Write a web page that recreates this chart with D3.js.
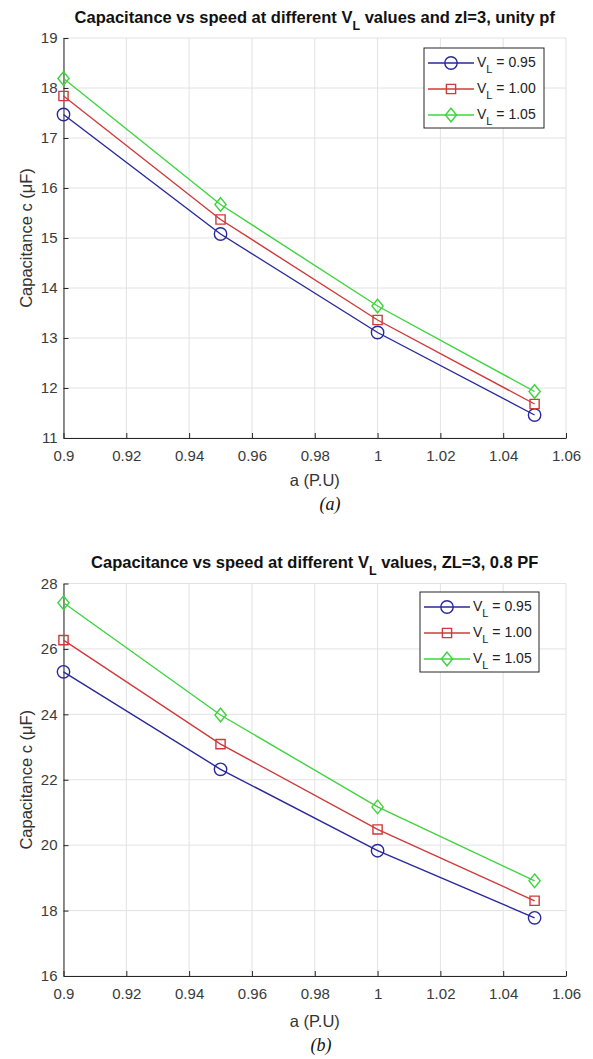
<!DOCTYPE html>
<html>
<head>
<meta charset="utf-8">
<script src="https://cdn.jsdelivr.net/npm/d3@7"></script>
<style>
  html, body { margin: 0; padding: 0; background: #ffffff; }
  svg { display: block; }
</style>
</head>
<body>
<svg id="chart" width="593" height="1059"></svg>
<script>
// ---------------- DATA ----------------
const speedPU = [0.9, 0.95, 1.0, 1.05];
const seriesLabels = ["0.95", "1.00", "1.05"];

// panel (a): unity pf
const capA_VL095 = [17.47, 15.08, 13.11, 11.46];
const capA_VL100 = [17.84, 15.37, 13.36, 11.68];
const capA_VL105 = [18.19, 15.67, 13.64, 11.93];

// panel (b): 0.8 PF
const capB_VL095 = [25.30, 22.32, 19.83, 17.78];
const capB_VL100 = [26.27, 23.09, 20.48, 18.30];
const capB_VL105 = [27.41, 23.98, 21.17, 18.91];

const xTickValues = [0.9, 0.92, 0.94, 0.96, 0.98, 1.0, 1.02, 1.04, 1.06];
const xTickLabels = ["0.9", "0.92", "0.94", "0.96", "0.98", "1", "1.02", "1.04", "1.06"];
const yTicksA = [11, 12, 13, 14, 15, 16, 17, 18, 19];
const yTicksB = [16, 18, 20, 22, 24, 26, 28];

// ---------------- STYLE ----------------
const seriesColors = ["#28289c", "#d03a3a", "#3fd43f"];
const axisColor = "#262626";
const gridColor = "#e2e2e2";
const FONT = "'Liberation Sans', Arial, Helvetica, sans-serif";

// custom marker shapes for d3.symbol
const markerCircle = { draw(ctx) { const r = 6.2; ctx.moveTo(r, 0); ctx.arc(0, 0, r, 0, 2 * Math.PI); } };
const markerSquare = { draw(ctx) { const h = 4.6; ctx.moveTo(-h, -h); ctx.lineTo(h, -h); ctx.lineTo(h, h); ctx.lineTo(-h, h); ctx.closePath(); } };
const markerDiamond = { draw(ctx) { const w = 5.6, h = 6.8; ctx.moveTo(0, -h); ctx.lineTo(w, 0); ctx.lineTo(0, h); ctx.lineTo(-w, 0); ctx.closePath(); } };
const seriesMarkers = [markerCircle, markerSquare, markerDiamond];

const svg = d3.select("#chart");
svg.append("rect").attr("width", 593).attr("height", 1059).attr("fill", "#fff");

function drawPanel(cfg) {
  const g = svg.append("g");
  const x = d3.scaleLinear().domain([0.9, 1.06]).range([cfg.left, cfg.right]);
  const y = d3.scaleLinear().domain(cfg.yDomain).range([cfg.bottom, cfg.top]);

  // grid
  g.append("g").selectAll("line.gx").data(xTickValues).join("line")
    .attr("x1", d => x(d)).attr("x2", d => x(d))
    .attr("y1", cfg.top).attr("y2", cfg.bottom)
    .attr("stroke", gridColor).attr("stroke-width", 1);
  g.append("g").selectAll("line.gy").data(cfg.yTicks).join("line")
    .attr("x1", cfg.left).attr("x2", cfg.right)
    .attr("y1", d => y(d)).attr("y2", d => y(d))
    .attr("stroke", gridColor).attr("stroke-width", 1);

  // axes (MATLAB style inward ticks)
  const xAxis = d3.axisBottom(x).tickValues(xTickValues)
    .tickFormat((d, i) => xTickLabels[i]).tickSizeInner(-5).tickSizeOuter(0).tickPadding(12);
  const yAxis = d3.axisLeft(y).tickValues(cfg.yTicks)
    .tickFormat(d3.format("d")).tickSizeInner(-5).tickSizeOuter(0).tickPadding(6);

  const gx = g.append("g").attr("transform", `translate(0,${cfg.bottom})`).call(xAxis);
  const gy = g.append("g").attr("transform", `translate(${cfg.left},0)`).call(yAxis);
  [gx, gy].forEach(a => {
    a.select(".domain").attr("stroke", axisColor).attr("stroke-width", 1);
    a.selectAll(".tick line").attr("stroke", axisColor);
    a.selectAll(".tick text").attr("fill", "#3a3a3a").style("font-family", FONT).style("font-size", "15px");
  });

  // series
  const series = cfg.series;
  const line = d3.line().x((d, i) => x(speedPU[i])).y(d => y(d));
  series.forEach((vals, si) => {
    g.append("path").datum(vals).attr("d", line)
      .attr("fill", "none").attr("stroke", seriesColors[si]).attr("stroke-width", 1.4);
    g.append("g").selectAll("path").data(vals).join("path")
      .attr("d", d3.symbol().type(seriesMarkers[si]))
      .attr("transform", (d, i) => `translate(${x(speedPU[i])},${y(d)})`)
      .attr("fill", "none").attr("stroke", seriesColors[si]).attr("stroke-width", 1.4);
  });

  // title with subscript
  const cx = (cfg.left + cfg.right) / 2;
  const t = g.append("text").attr("x", cx).attr("y", cfg.titleY)
    .attr("text-anchor", "middle").attr("fill", "#111")
    .style("font-family", FONT).style("font-size", "16.5px").style("font-weight", "bold");
  t.append("tspan").text(cfg.titlePre);
  t.append("tspan").attr("dy", 7).style("font-size", "12.5px").text("L");
  t.append("tspan").attr("dy", -7).text(cfg.titlePost);

  // axis labels
  g.append("text").attr("x", cx).attr("y", cfg.bottom + cfg.xLabelOff)
    .attr("text-anchor", "middle").attr("fill", "#333")
    .style("font-family", FONT).style("font-size", "16.5px").text("a (P.U)");
  const yl = g.append("text").attr("transform", `translate(${cfg.yLabelX},${(cfg.top + cfg.bottom) / 2}) rotate(-90)`)
    .attr("text-anchor", "middle").attr("fill", "#333")
    .style("font-family", FONT).style("font-size", "16.5px");
  yl.append("tspan").text("Capacitance c (");
  yl.append("tspan").text("\u03BC");
  yl.append("tspan").text("F)");

  // caption
  g.append("text").attr("x", cfg.capX).attr("y", cfg.capY)
    .attr("text-anchor", "middle").attr("fill", "#111")
    .style("font-family", "'Liberation Serif', 'Times New Roman', serif")
    .style("font-size", "18px").style("font-style", "italic").text(cfg.caption);

  // legend
  const L = cfg.legend;
  const lg = g.append("g");
  lg.append("rect").attr("x", L.x).attr("y", L.y).attr("width", L.w).attr("height", L.h)
    .attr("fill", "#fff").attr("stroke", axisColor).attr("stroke-width", 1);
  seriesLabels.forEach((lab, si) => {
    const ry = L.y + 15 + si * 26;
    lg.append("line").attr("x1", L.x + 4).attr("x2", L.x + 50).attr("y1", ry).attr("y2", ry)
      .attr("stroke", seriesColors[si]).attr("stroke-width", 1.4);
    lg.append("path").attr("d", d3.symbol().type(seriesMarkers[si]))
      .attr("transform", `translate(${L.x + 27},${ry})`)
      .attr("fill", "none").attr("stroke", seriesColors[si]).attr("stroke-width", 1.4);
    const tx = lg.append("text").attr("x", L.x + 53).attr("y", ry + 4).attr("fill", "#222")
      .style("font-family", FONT).style("font-size", "14px");
    tx.append("tspan").text("V");
    tx.append("tspan").attr("dy", 6).style("font-size", "11px").text("L");
    tx.append("tspan").attr("dy", -6).text(" = " + lab);
  });
}

drawPanel({
  left: 63.5, right: 566, top: 38, bottom: 438,
  yDomain: [11, 19], yTicks: yTicksA,
  series: [capA_VL095, capA_VL100, capA_VL105],
  titlePre: "Capacitance vs speed at different V",
  titlePost: " values and zl=3, unity pf",
  titleY: 23, xLabelOff: 48, yLabelX: 32,
  caption: "(a)", capX: 330, capY: 510,
  legend: { x: 424, y: 48, w: 120, h: 80 }
});

drawPanel({
  left: 63.5, right: 566, top: 583.5, bottom: 976,
  yDomain: [16, 28], yTicks: yTicksB,
  series: [capB_VL095, capB_VL100, capB_VL105],
  titlePre: "Capacitance vs speed at different V",
  titlePost: " values, ZL=3, 0.8 PF",
  titleY: 568, xLabelOff: 51, yLabelX: 32,
  caption: "(b)", capX: 321, capY: 1051,
  legend: { x: 420, y: 592, w: 119, h: 80 }
});
</script>
</body>
</html>
